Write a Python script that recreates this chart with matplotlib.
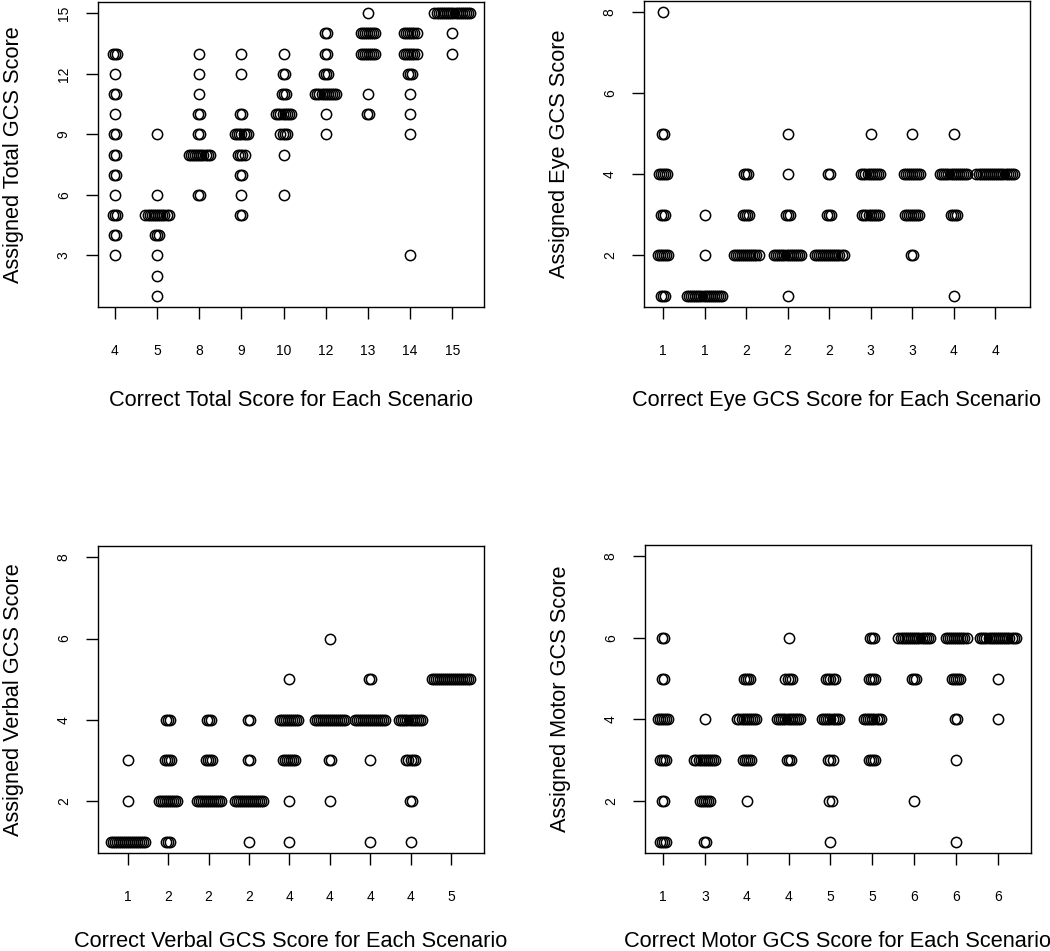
import numpy as np
import matplotlib
matplotlib.use("Agg")
import matplotlib.pyplot as plt

plt.rcParams['font.family'] = ['Liberation Sans', 'DejaVu Sans']

# assigned score -> number of raters, one dict per scenario
total_labels = ['4', '5', '8', '9', '10', '12', '13', '14', '15']
total_counts = [
    {13: 3, 12: 1, 11: 2, 10: 1, 9: 2, 8: 2, 7: 2, 6: 1, 5: 3, 4: 2, 3: 1},
    {9: 1, 6: 1, 5: 12, 4: 3, 3: 1, 2: 1, 1: 1},
    {13: 1, 12: 1, 11: 1, 10: 2, 9: 2, 8: 11, 6: 2},
    {13: 1, 12: 1, 10: 2, 9: 7, 8: 4, 7: 2, 6: 1, 5: 2},
    {13: 1, 12: 2, 11: 3, 10: 8, 9: 4, 8: 1, 6: 1},
    {14: 2, 13: 2, 12: 3, 11: 11, 10: 1, 9: 1},
    {15: 1, 14: 8, 13: 8, 11: 1, 10: 2},
    {14: 7, 13: 7, 12: 3, 11: 1, 10: 1, 9: 1, 3: 1},
    {15: 18, 14: 1, 13: 1},
]

eye_labels = ['1', '1', '2', '2', '2', '3', '3', '4', '4']
eye_counts = [
    {8: 1, 5: 2, 4: 5, 3: 3, 2: 6, 1: 3},
    {3: 1, 2: 1, 1: 18},
    {4: 3, 3: 4, 2: 13},
    {5: 1, 4: 1, 3: 3, 2: 14, 1: 1},
    {4: 2, 3: 3, 2: 15},
    {5: 1, 4: 10, 3: 9},
    {5: 1, 4: 9, 3: 8, 2: 2},
    {5: 1, 4: 14, 3: 4, 1: 1},
    {4: 19},
]

verbal_labels = ['1', '2', '2', '2', '4', '4', '4', '4', '5']
verbal_counts = [
    {3: 1, 2: 1, 1: 18},
    {4: 3, 3: 4, 2: 10, 1: 3},
    {4: 3, 3: 4, 2: 13},
    {4: 2, 3: 2, 2: 15, 1: 1},
    {5: 1, 4: 10, 3: 7, 2: 1, 1: 1},
    {6: 1, 4: 16, 3: 2, 2: 1},
    {5: 2, 4: 16, 3: 1, 1: 1},
    {4: 12, 3: 5, 2: 2, 1: 1},
    {5: 20},
]

motor_labels = ['1', '3', '4', '4', '5', '5', '6', '6', '6']
motor_counts = [
    {6: 2, 5: 2, 4: 6, 3: 4, 2: 2, 1: 4},
    {4: 1, 3: 11, 2: 6, 1: 2},
    {5: 4, 4: 10, 3: 5, 2: 1},
    {6: 1, 5: 4, 4: 12, 3: 3},
    {5: 5, 4: 9, 3: 3, 2: 2, 1: 1},
    {6: 3, 5: 4, 4: 9, 3: 4},
    {6: 16, 5: 3, 2: 1},
    {6: 11, 5: 5, 4: 2, 3: 1, 1: 1},
    {6: 18, 5: 1, 4: 1},
]

W, H = 1050, 951
fig = plt.figure(figsize=(W / 100, H / 100), dpi=100)


def make_axes(x0, x1, y0, y1):
    return fig.add_axes([x0 / W, 1 - y1 / H, (x1 - x0) / W, (y1 - y0) / H])


def strip(ax, counts, labels, xlim, ylim, yticks, xlabel, ylabel, xlab_y):
    d = 0.05
    for i, grp in enumerate(counts):
        for v, n in grp.items():
            xs = i + 1 + (np.arange(n) - (n - 1) / 2) * d
            ax.plot(xs, [v] * n, linestyle='none', marker='o', ms=7.4,
                    mfc='none', mec='black', mew=1.1)
    ax.set_xlim(*xlim)
    ax.set_ylim(*ylim)
    ax.set_xticks(np.arange(1, len(labels) + 1))
    ax.set_xticklabels(labels)
    ax.set_yticks(yticks)
    ax.set_yticklabels([str(t) for t in yticks], rotation=90, va='center')
    ax.tick_params(axis='x', length=8.6, width=1, pad=18, labelsize=10)
    ax.tick_params(axis='y', length=8.6, width=1, pad=11, labelsize=10)
    for s in ax.spines.values():
        s.set_linewidth(1.0)
    ax.set_xlabel(xlabel, fontsize=15.7)
    ax.xaxis.set_label_coords(0.5, xlab_y)
    ax.xaxis.label.set_va('center')
    ax.set_ylabel(ylabel, fontsize=15.7)
    ax.yaxis.set_label_coords(-0.22, 0.5)
    ax.yaxis.label.set_va('center')


ax1 = make_axes(98, 484, 2, 307)
strip(ax1, total_counts, total_labels, (0.6, 9.75), (0.44, 15.56), [3, 6, 9, 12, 15],
      'Correct Total Score for Each Scenario', 'Assigned Total GCS Score', -0.305)

ax2 = make_axes(644, 1030, 1, 307)
strip(ax2, eye_counts, eye_labels, (0.54, 9.84), (0.72, 8.28), [2, 4, 6, 8],
      'Correct Eye GCS Score for Each Scenario', 'Assigned Eye GCS Score', -0.305)

ax3 = make_axes(98, 484, 546, 853)
strip(ax3, verbal_counts, verbal_labels, (0.26, 9.82), (0.72, 8.28), [2, 4, 6, 8],
      'Correct Verbal GCS Score for Each Scenario', 'Assigned Verbal GCS Score', -0.287)

ax4 = make_axes(645, 1031, 545, 853)
strip(ax4, motor_counts, motor_labels, (0.57, 9.79), (0.72, 8.28), [2, 4, 6, 8],
      'Correct Motor GCS Score for Each Scenario', 'Assigned Motor GCS Score', -0.287)

fig.savefig('out.png', dpi=100)
